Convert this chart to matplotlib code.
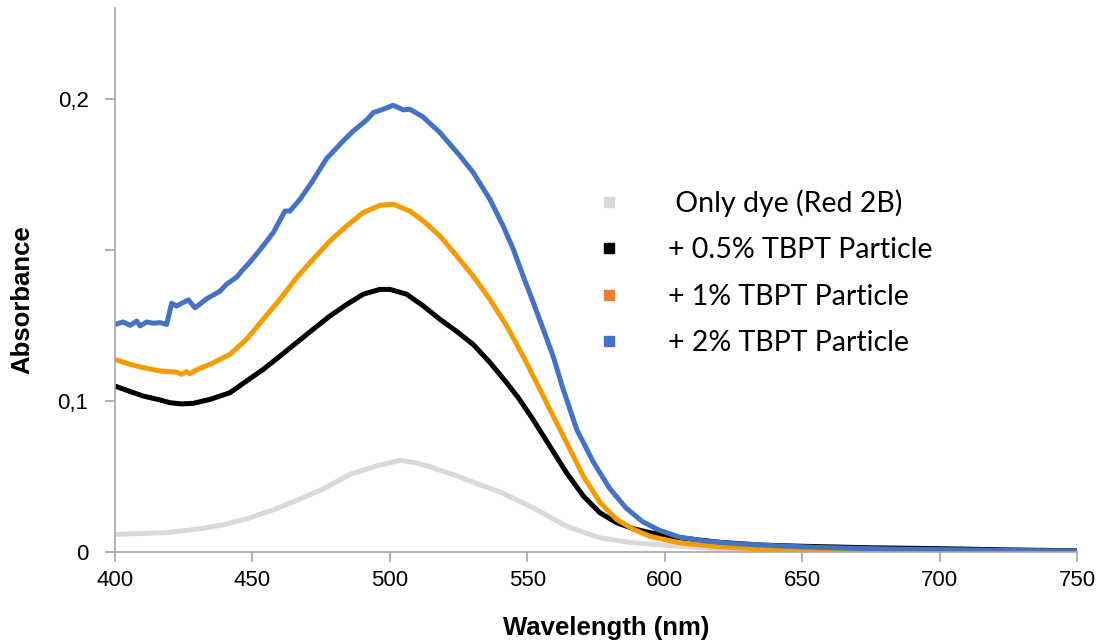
import matplotlib
matplotlib.use("Agg")
from matplotlib import pyplot as plt
from matplotlib.lines import Line2D

# values (wavelength in nm, absorbance)
gray_nm = [400, 418.8, 431, 440, 449, 458, 467, 476, 485.5, 496.4, 503.7, 509, 514.6, 525,
           532.8, 540, 552.2, 564.3, 576.4, 588.6, 605.5, 620, 650, 700, 750]
gray_abs = [0.0058, 0.0064, 0.0077, 0.0091, 0.0113, 0.0141, 0.0174, 0.0210, 0.0257, 0.0288,
            0.0303, 0.0296, 0.0282, 0.0250, 0.0222, 0.0199, 0.0146, 0.0085, 0.0047, 0.0030,
            0.0019, 0.0010, 0.0005, 0.0003, 0.0002]

black_nm = [400, 405.5, 410.3, 416.4, 420, 424.3, 428.5, 434.6, 441.8, 447.9, 453.9, 460,
            466.1, 472.1, 478.2, 484.3, 490.3, 496.4, 500, 506.1, 512.2, 518.2, 524.3, 530.3,
            536.4, 542.5, 546.7, 552.2, 558.2, 564.3, 570.4, 576.4, 582.5, 588.6, 594.6, 605.5,
            620, 635, 650, 675, 700, 725, 750]
black_abs = [0.0549, 0.0531, 0.0516, 0.0503, 0.0494, 0.0490, 0.0492, 0.0505, 0.0527, 0.0566,
             0.0604, 0.0648, 0.0693, 0.0737, 0.0781, 0.0819, 0.0853, 0.0869, 0.0869, 0.0853,
             0.0814, 0.0770, 0.0730, 0.0687, 0.0627, 0.0560, 0.0511, 0.0437, 0.0350, 0.0262,
             0.0185, 0.0130, 0.0097, 0.0077, 0.0064, 0.0047, 0.0032, 0.0023, 0.0019, 0.0014,
             0.0011, 0.0007, 0.0004]

orange_nm = [400, 405.5, 410.3, 416.4, 422.4, 424.3, 426, 427.3, 429.7, 434.6, 441.8, 447.9,
             453.9, 460, 466.1, 472.1, 478.2, 484.3, 490.3, 496.4, 501.2, 507.3, 512.2, 518.2,
             524.3, 530.3, 536.4, 542.5, 548.5, 554.6, 558.2, 564.3, 570.4, 576.4, 582.5, 588.6,
             594.6, 605.5, 620, 635, 650, 675, 700, 750]
orange_abs = [0.0637, 0.0621, 0.0610, 0.0599, 0.0595, 0.0588, 0.0597, 0.0590, 0.0603, 0.0621,
              0.0654, 0.0704, 0.0770, 0.0836, 0.0908, 0.0969, 0.1029, 0.1079, 0.1123, 0.1147,
              0.1151, 0.1128, 0.1095, 0.1046, 0.0980, 0.0913, 0.0836, 0.0748, 0.0648, 0.0538,
              0.0472, 0.0362, 0.0251, 0.0165, 0.0108, 0.0075, 0.0052, 0.0030, 0.0017, 0.0010,
              0.0006, 0.0004, 0.0003, 0.0002]

blue_nm = [400, 403, 405.5, 407.9, 409.1, 411.5, 413.9, 416.4, 418.8, 420.6, 422.4, 424.3,
           426.7, 429.1, 433.4, 438.2, 440.6, 444.3, 446.6, 449, 453.9, 457.6, 461.8, 463.6,
           467.3, 471.5, 477, 483, 486.7, 491.6, 494, 497.6, 501.2, 504.9, 507.3, 512, 518.2,
           525.5, 530.3, 536.4, 541.2, 544.9, 548.5, 552.2, 555.8, 559.4, 563, 568, 574, 580,
           586, 592, 598, 605.5, 615, 625, 640, 656, 680, 700, 725, 750]
blue_abs = [0.0753, 0.0761, 0.0750, 0.0764, 0.0748, 0.0761, 0.0757, 0.0759, 0.0753, 0.0823,
            0.0814, 0.0823, 0.0834, 0.0808, 0.0838, 0.0863, 0.0886, 0.0910, 0.0935, 0.0958,
            0.1013, 0.1057, 0.1128, 0.1128, 0.1167, 0.1222, 0.1302, 0.1360, 0.1393, 0.1430,
            0.1454, 0.1465, 0.1478, 0.1463, 0.1465, 0.1440, 0.1388, 0.1311, 0.1256, 0.1167,
            0.1079, 0.1002, 0.0913, 0.0825, 0.0737, 0.0648, 0.0540, 0.0405, 0.0298, 0.0210,
            0.0145, 0.0100, 0.0072, 0.0049, 0.0036, 0.0028, 0.0021, 0.0015, 0.0010, 0.0008,
            0.0005, 0.0003]

labels = [" Only dye (Red 2B)", "+ 0.5% TBPT Particle", "+ 1% TBPT Particle", "+ 2% TBPT Particle"]
line_colors = ["#d9d9d9", "#000000", "#f59c00", "#4472c4"]
legend_colors = ["#d9d9d9", "#000000", "#ed7d31", "#4472c4"]

x_ticks = [400, 450, 500, 550, 600, 650, 700, 750]
y_ticks = [0, 0.05, 0.1, 0.15]
y_tick_labels = ["0", "0,1", "", "0,2"]

plt.rcParams['font.family'] = ['Liberation Sans', 'DejaVu Sans']

fig = plt.figure(figsize=(10.97, 6.43), dpi=100)
ax = fig.add_axes([115/1097, 1-552/643, (1077-115)/1097, (552-8)/643])

series = [(gray_nm, gray_abs), (black_nm, black_abs), (orange_nm, orange_abs), (blue_nm, blue_abs)]
for (xs, ys), c in zip(series, line_colors):
    ax.plot(xs, ys, color=c, linewidth=3.6, solid_capstyle='butt', solid_joinstyle='round')

ax.set_xlim(400, 750)
ax.set_ylim(0, 0.18)
ax.set_xticks(x_ticks)
ax.set_yticks(y_ticks)
ax.set_yticklabels(y_tick_labels)

for s in ['top', 'right']:
    ax.spines[s].set_visible(False)
for s in ['left', 'bottom']:
    ax.spines[s].set_color('#a6a6a6')
    ax.spines[s].set_linewidth(1.2)
ax.tick_params(axis='both', direction='out', length=7, width=1.2, color='#a6a6a6',
               labelsize=16, labelcolor='black')
ax.tick_params(axis='x', pad=6)
ax.tick_params(axis='y', pad=12)

fig.text(606/1097, 1-628/643, "Wavelength (nm)", ha='center', va='center',
         fontsize=18.5, fontweight='bold')
fig.text(22/1097, 1-300/643, "Absorbance", ha='center', va='center', rotation=90,
         fontsize=18.5, fontweight='bold')

handles = [Line2D([], [], linestyle='none', marker='s', markersize=7, color=c) for c in legend_colors]
leg = ax.legend(handles, labels, loc='upper left', bbox_to_anchor=(600/1097, 1-189/643),
                bbox_transform=fig.transFigure, frameon=False, handlelength=0.6,
                handletextpad=1.8, labelspacing=0.72, borderpad=0, borderaxespad=0,
                prop={'family': ['Lato', 'DejaVu Sans'], 'size': 20.5})

fig.savefig("out.png", dpi=100)
